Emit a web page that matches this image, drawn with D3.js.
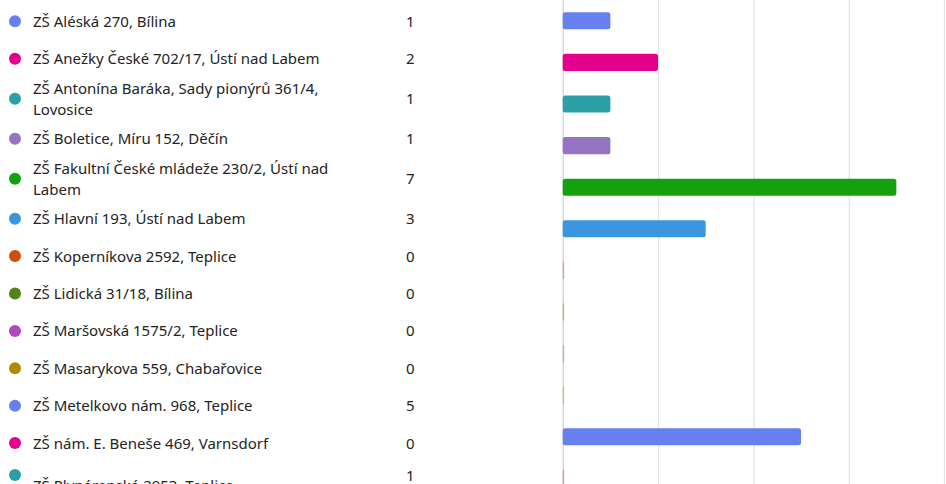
<!DOCTYPE html>
<meta charset="utf-8">
<script src="https://d3js.org/d3.v7.min.js"></script>
<style>
 body { margin: 0; background: #fff; overflow: hidden; }
 text { font-family: 'Noto Sans', 'Open Sans', sans-serif; }
</style>
<div id="chart"></div>
<script>

 // data
 const schools = [
     "ZŠ Aléská 270, Bílina",
     "ZŠ Anežky České 702/17, Ústí nad Labem",
     "ZŠ Antonína Baráka, Sady pionýrů 361/4, Lovosice",
     "ZŠ Boletice, Míru 152, Děčín",
     "ZŠ Fakultní České mládeže 230/2, Ústí nad Labem",
     "ZŠ Hlavní 193, Ústí nad Labem",
     "ZŠ Koperníkova 2592, Teplice",
     "ZŠ Lidická 31/18, Bílina",
     "ZŠ Maršovská 1575/2, Teplice",
     "ZŠ Masarykova 559, Chabařovice",
     "ZŠ Metelkovo nám. 968, Teplice",
     "ZŠ nám. E. Beneše 469, Varnsdorf",
     "ZŠ Plynárenská 2953, Teplice"
 ];
 const counts = [1, 2, 1, 1, 7, 3, 0, 0, 0, 0, 5, 0, 1];
 const colors = ["#6780ef", "#e3008c", "#2aa0a4", "#9474c0", "#13a10e", "#3a96dd",
                 "#ca5010", "#57811b", "#b146c2", "#ae8c00", "#6780ef", "#e3008c", "#2aa0a4"];
 const gridTicks = [0, 2, 4, 6, 8];

 const W = 946, H = 484;
 const textColor = "#242424";
 const fontSize = 15;
 const wrapWidth = 320;

 const svg = d3.select("#chart").append("svg")
               .attr("width", W).attr("height", H);

 // ---------- left legend list ----------
 const list = svg.append("g");

 // wrap labels into lines by measured width
 const measure = svg.append("text").style("font-size", fontSize + "px");
 function wrap(label) {
     const words = label.split(" ");
     const lines = [];
     let cur = "";
     words.forEach(w => {
         const test = cur ? cur + " " + w : w;
         measure.text(test);
         if (cur && measure.node().getComputedTextLength() > wrapWidth) {
             lines.push(cur);
             cur = w;
         } else cur = test;
     });
     lines.push(cur);
     return lines;
 }
 const wrapped = schools.map(wrap);
 measure.remove();

 // row layout: one-line rows are shorter than two-line rows
 const lineH = 21.3;
 let yy = 2.6;
 const rowCenter = wrapped.map(lines => {
     const h = lines.length > 1 ? 42.6 : 37.4;
     const c = yy + h / 2;
     yy += h;
     return c;
 });

 const rows = list.selectAll("g.row")
                  .data(schools.map((s, i) => ({name: s, lines: wrapped[i], n: counts[i], c: colors[i], y: rowCenter[i], i})))
                  .join("g")
                  .attr("class", "row")
                  .attr("transform", d => `translate(0,${d.i === schools.length - 1 ? d.y - 5.5 : d.y})`);

 rows.append("circle")
     .attr("cx", 15).attr("cy", 0).attr("r", 6)
     .style("fill", d => d.c);

 rows.append("text")
     .attr("x", 33)
     // last row is cut by the page edge and sits lower than its dot
     .attr("y", d => (d.i === schools.length - 1 ? 10 : 0) - (d.lines.length - 1) * lineH / 2 + 5.5)
     .style("font-size", fontSize + "px")
     .style("fill", textColor)
     .selectAll("tspan")
     .data(d => d.lines)
     .join("tspan")
     .attr("x", 33)
     .attr("dy", (d, k) => k === 0 ? 0 : lineH)
     .text(d => d);

 rows.append("text")
     .attr("x", 406).attr("y", 5.5)
     .style("font-size", fontSize + "px")
     .style("fill", textColor)
     .text(d => d.n);

 // ---------- bar chart ----------
 const x = d3.scaleLinear().domain([0, 8]).range([562.7, 944]);
 const y = d3.scaleBand()
             .domain(d3.range(schools.length))
             .range([0, 41.6 * schools.length])
             .paddingInner(0.59)
             .paddingOuter(0.295);

 // vertical grid
 svg.append("g")
    .attr("transform", `translate(0,${H})`)
    .call(d3.axisBottom(x).tickValues(gridTicks).tickSize(-H).tickFormat(""))
    .call(g => g.select(".domain").remove())
    .call(g => g.selectAll(".tick line")
                .attr("stroke", (d) => d === 0 ? "#cfcfcf" : "#e3e3e3")
                .attr("stroke-width", 1.2));

 svg.append("g")
    .selectAll("rect")
    .data(counts)
    .join("rect")
    .attr("x", x(0))
    .attr("y", (d, i) => y(i))
    .attr("width", d => d === 0 ? 1.5 : x(d) - x(0))
    .attr("height", y.bandwidth())
    .attr("rx", d => d === 0 ? 0 : 2.5)
    .style("fill", (d, i) => colors[i])
    .style("fill-opacity", d => d === 0 ? 0.35 : 1);

</script>
